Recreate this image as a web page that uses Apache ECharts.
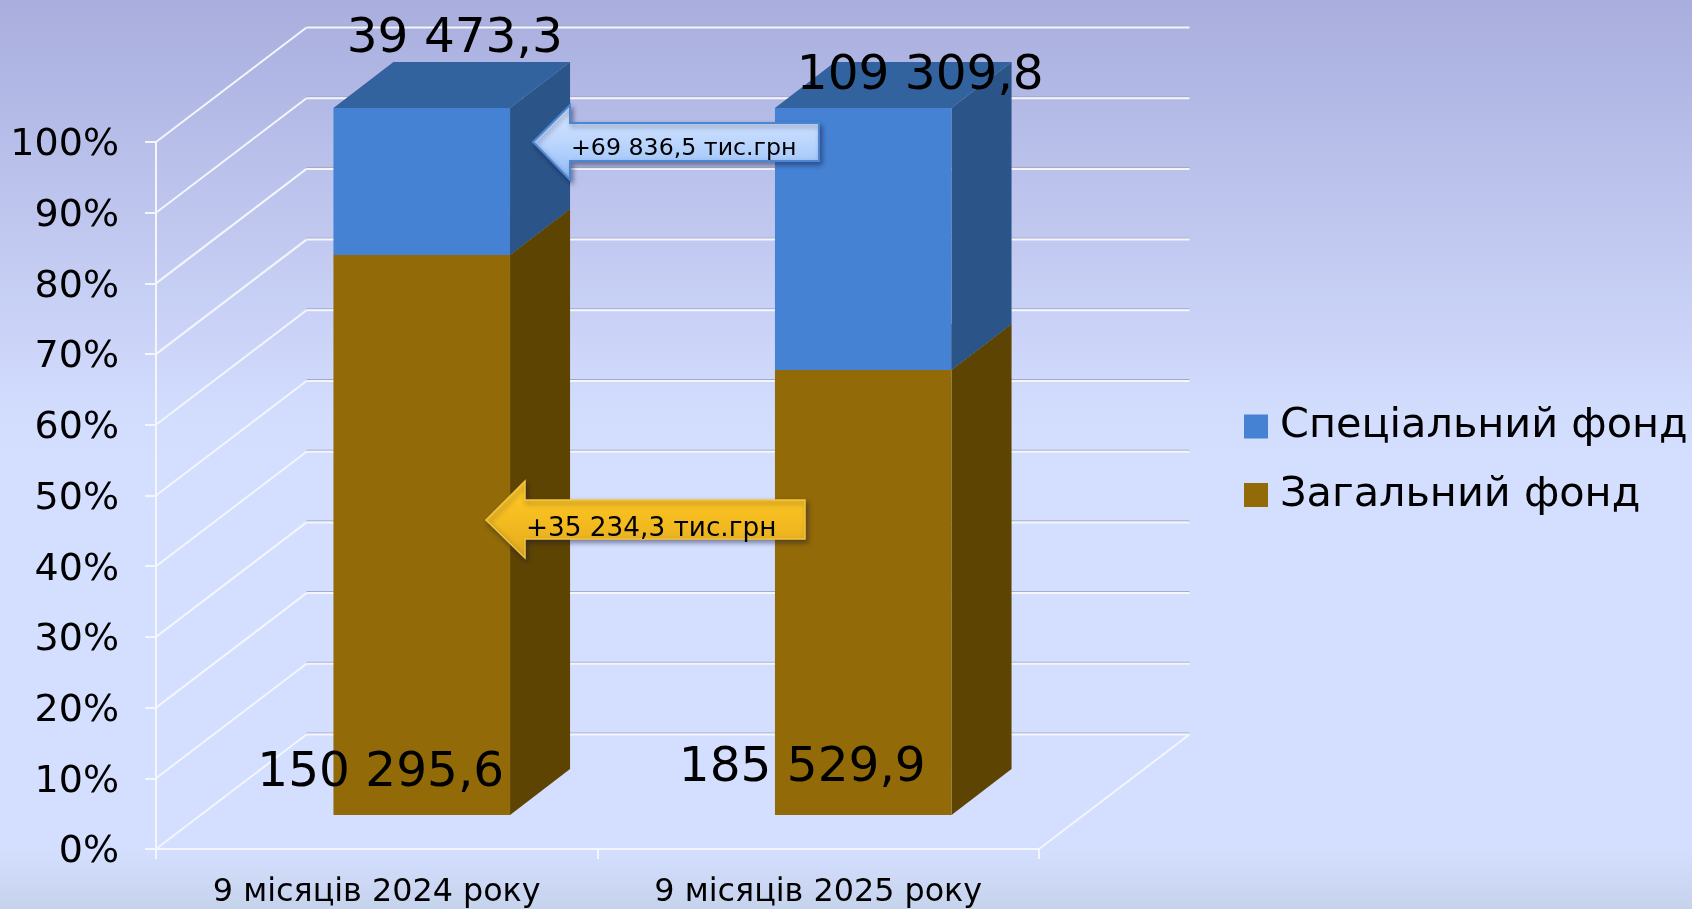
<!DOCTYPE html>
<html>
<head>
<meta charset="utf-8">
<style>html,body{margin:0;padding:0;width:1692px;height:909px;overflow:hidden}#c{width:1692px;height:909px}</style>
<script src="https://cdn.jsdelivr.net/npm/echarts@6/dist/echarts.min.js"></script>
</head>
<body>
<div id="c"></div>
<script>
const categories = ['9 місяців 2024 року', '9 місяців 2025 року'];
const generalFund = [150295.6, 185529.9];
const specialFund = [39473.3, 109309.8];
const yTicks = [0, 10, 20, 30, 40, 50, 60, 70, 80, 90, 100];
const seriesNames = ['Спеціальний фонд', 'Загальний фонд'];
const arrowTexts = ['+69 836,5 тис.грн', '+35 234,3 тис.грн'];

const FONT = '"DejaVu Sans", Verdana, sans-serif';
const WALL = [150.5, -114.5];
const PLANE = [45, -34];
const BAR_DEPTH = [60, -46];
const BAR_FRACTION = 0.4;
const BLUE = { front: '#4582d3', top: '#33639f', side: '#2b5488' };
const BROWN = { front: '#926a07', top: '#7a5905', side: '#5e4403' };
const specialLabelOffsets = [[33, -69], [57, -32]];
const generalLabelOffsets = [[-41, -42], [-61, -47]];

const fmt = v => {
  const [i, d] = v.toFixed(1).split('.');
  return i.replace(/\B(?=(\d{3})+$)/g, ' ') + ',' + d;
};
const pct = (v, i) => v / (generalFund[i] + specialFund[i]) * 100;

const poly = (points, fill) => ({ type: 'polygon', shape: { points }, style: { fill }, silent: true });
const shift = (p, d) => [p[0] + d[0], p[1] + d[1]];

function barRenderer(colors, offsets) {
  return function (params, api) {
    const cat = api.value(0), a = api.value(1), b = api.value(2);
    const w = api.size([1, 0])[0] * BAR_FRACTION;
    const c0 = shift(api.coord([cat, a]), PLANE);
    const c1 = shift(api.coord([cat, b]), PLANE);
    const bl = [c0[0] - w / 2, c0[1]], br = [c0[0] + w / 2, c0[1]];
    const tl = [c1[0] - w / 2, c1[1]], tr = [c1[0] + w / 2, c1[1]];
    const off = offsets[cat];
    const anchor = a === 0 ? c0 : c1;
    return {
      type: 'group',
      children: [
        poly([br, shift(br, BAR_DEPTH), shift(tr, BAR_DEPTH), tr], colors.side),
        poly([tl, shift(tl, BAR_DEPTH), shift(tr, BAR_DEPTH), tr], colors.top),
        poly([bl, br, tr, tl], colors.front),
        {
          type: 'text', z2: 50, silent: true,
          style: {
            x: anchor[0] + off[0], y: anchor[1] + off[1], text: fmt(api.value(3)),
            font: '48.5px ' + FONT, fill: '#000', align: 'center', verticalAlign: 'middle'
          }
        }
      ]
    };
  };
}

function wallRenderer(params, api) {
  const g = params.coordSys;
  const v = api.value(1);
  const p = api.coord([0, v]);
  const front = [g.x, p[1]];
  const back = shift(front, WALL);
  const endX = g.x + g.width + WALL[0];
  const children = [
    { type: 'line', silent: true, shape: { x1: back[0], y1: back[1] - 1.5, x2: endX, y2: back[1] - 1.5 }, style: { stroke: '#a4a8c8', lineWidth: 1 } },
    { type: 'line', silent: true, shape: { x1: back[0], y1: back[1], x2: endX, y2: back[1] }, style: { stroke: '#f4f6fd', lineWidth: 2 } },
    { type: 'line', silent: true, shape: { x1: front[0], y1: front[1], x2: back[0], y2: back[1] }, style: { stroke: '#f4f6fd', lineWidth: 2 } }
  ];
  if (v === 0) {
    children.push({ type: 'line', silent: true, shape: { x1: g.x + g.width, y1: front[1], x2: endX, y2: back[1] }, style: { stroke: '#f4f6fd', lineWidth: 2 } });
  }
  return { type: 'group', children };
}

const arrowShadow = { shadowBlur: 5, shadowOffsetX: 2, shadowOffsetY: 3, shadowColor: 'rgba(20,20,60,0.45)' };

const option = {
  animation: false,
  backgroundColor: {
    type: 'linear', x: 0, y: 0, x2: 0, y2: 1,
    colorStops: [
      { offset: 0, color: '#a9aede' },
      { offset: 0.45, color: '#d2dcfd' },
      { offset: 0.51, color: '#d4defe' },
      { offset: 0.935, color: '#d4defe' },
      { offset: 1, color: '#c6d3ec' }
    ]
  },
  textStyle: { fontFamily: FONT },
  grid: { left: 156, top: 142, width: 883, height: 707, containLabel: false },
  legend: {
    data: seriesNames, orient: 'vertical', left: 1244, top: 400,
    icon: 'rect', itemWidth: 24, itemHeight: 24, itemGap: 15.5, selectedMode: false,
    padding: 0,
    textStyle: { fontFamily: FONT, fontSize: 41.4, color: '#000', lineHeight: 46, padding: [7, 0, 0, 7] }
  },
  xAxis: {
    type: 'category', data: categories, boundaryGap: true,
    axisLine: { show: true, lineStyle: { color: '#f4f6fd', width: 2 } },
    axisTick: { show: true, length: 10, lineStyle: { color: '#f4f6fd', width: 2 } },
    axisLabel: { fontFamily: FONT, fontSize: 31.8, color: '#000', margin: 28 },
    splitLine: { show: false }
  },
  yAxis: {
    type: 'value', min: 0, max: 100, interval: 10,
    axisLine: { show: true, lineStyle: { color: '#f4f6fd', width: 2 } },
    axisTick: { show: true, length: 11, lineStyle: { color: '#f4f6fd', width: 2 } },
    axisLabel: { fontFamily: FONT, fontSize: 38, color: '#000', margin: 37, verticalAlign: 'top', padding: [-15.5, 0, 0, 0], formatter: '{value}%' },
    splitLine: { show: false }
  },
  graphic: [
    {
      type: 'polygon', z: 100, silent: true,
      shape: { points: [[533, 142], [570, 105], [570, 123], [819, 123], [819, 161], [570, 161], [570, 180]] },
      style: Object.assign({
        fill: { type: 'linear', x: 0, y: 0, x2: 0, y2: 1, colorStops: [{ offset: 0, color: '#dbe8ff' }, { offset: 0.5, color: '#bcd6fd' }, { offset: 1, color: '#8fbcf7' }] },
        stroke: '#4a86d2', lineWidth: 2
      }, arrowShadow)
    },
    {
      type: 'text', z: 101, silent: true, x: 571, y: 149,
      style: { text: arrowTexts[0], font: '23.7px ' + FONT, fill: '#000', align: 'left', verticalAlign: 'middle' }
    },
    {
      type: 'polygon', z: 100, silent: true,
      shape: { points: [[486, 520], [525, 481], [525, 500], [805, 500], [805, 539], [525, 539], [525, 558]] },
      style: Object.assign({
        fill: { type: 'linear', x: 0, y: 0, x2: 0, y2: 1, colorStops: [{ offset: 0, color: '#ffc925' }, { offset: 0.5, color: '#f5bc20' }, { offset: 1, color: '#e0a91e' }] },
        stroke: '#f3c63f', lineWidth: 1.5
      }, arrowShadow)
    },
    {
      type: 'text', z: 101, silent: true, x: 526, y: 529,
      style: { text: arrowTexts[1], font: '26.3px ' + FONT, fill: '#000', align: 'left', verticalAlign: 'middle' }
    }
  ],
  series: [
    {
      type: 'custom', name: 'wall', silent: true, z: 1, clip: false,
      coordinateSystem: 'cartesian2d',
      data: yTicks.map(v => [0, v]),
      encode: { x: 0, y: 1 },
      renderItem: wallRenderer
    },
    {
      type: 'custom', name: seriesNames[1], z: 2, clip: false,
      coordinateSystem: 'cartesian2d',
      itemStyle: { color: BROWN.front },
      data: categories.map((_, i) => [i, 0, pct(generalFund[i], i), generalFund[i]]),
      encode: { x: 0, y: [1, 2] },
      renderItem: barRenderer(BROWN, generalLabelOffsets)
    },
    {
      type: 'custom', name: seriesNames[0], z: 3, clip: false,
      coordinateSystem: 'cartesian2d',
      itemStyle: { color: BLUE.front },
      data: categories.map((_, i) => [i, pct(generalFund[i], i), 100, specialFund[i]]),
      encode: { x: 0, y: [1, 2] },
      renderItem: barRenderer(BLUE, specialLabelOffsets)
    }
  ]
};
echarts.init(document.getElementById('c'), null, { renderer: 'canvas' }).setOption(option);
</script>
</body>
</html>
